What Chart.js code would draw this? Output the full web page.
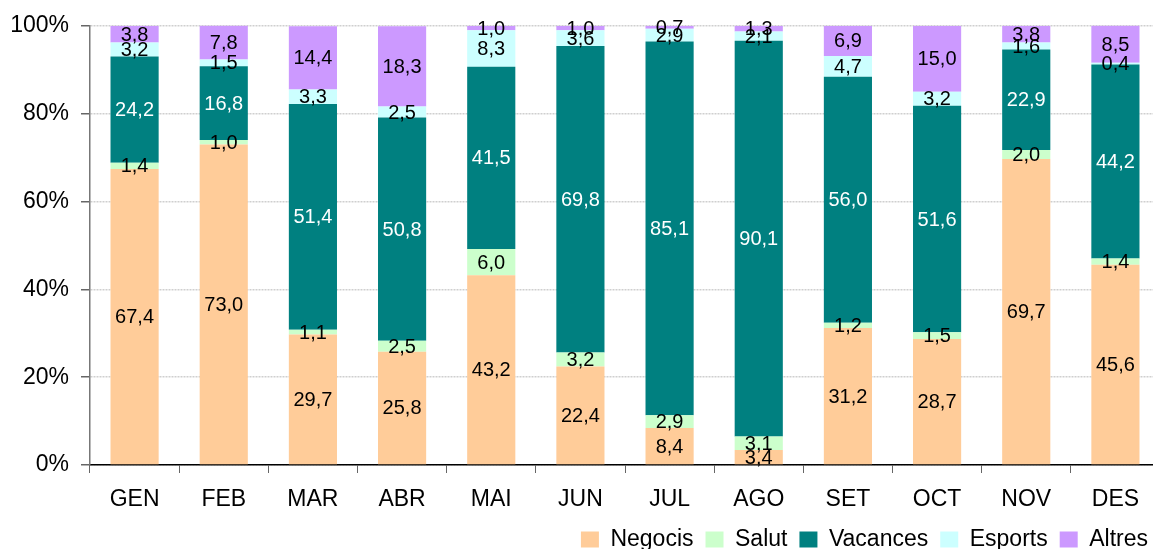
<!DOCTYPE html>
<html>
<head>
<meta charset="utf-8">
<script src="https://cdn.jsdelivr.net/npm/chart.js@4.4.1/dist/chart.umd.min.js"></script>
<style>
  html, body { margin: 0; padding: 0; background: #fff; overflow: hidden; }
  #wrap { width: 1153px; height: 549px; overflow: hidden; position: relative; }
  canvas { position: absolute; left: 0; top: 0; }
</style>
</head>
<body>
<div id="wrap"><canvas id="c" width="1168" height="561"></canvas></div>
<script>
const categories = ['GEN','FEB','MAR','ABR','MAI','JUN','JUL','AGO','SET','OCT','NOV','DES'];
const negocis  = [67.4, 73.0, 29.7, 25.8, 43.2, 22.4,  8.4,  3.4, 31.2, 28.7, 69.7, 45.6];
const salut    = [ 1.4,  1.0,  1.1,  2.5,  6.0,  3.2,  2.9,  3.1,  1.2,  1.5,  2.0,  1.4];
const vacances = [24.2, 16.8, 51.4, 50.8, 41.5, 69.8, 85.1, 90.1, 56.0, 51.6, 22.9, 44.2];
const esports  = [ 3.2,  1.5,  3.3,  2.5,  8.3,  3.6,  2.9,  2.1,  4.7,  3.2,  1.6,  0.4];
const altres   = [ 3.8,  7.8, 14.4, 18.3,  1.0,  1.0,  0.7,  1.3,  6.9, 15.0,  3.8,  8.5];
const yTicks = [0, 20, 40, 60, 80, 100];

const FONT = "'Liberation Sans', Arial, sans-serif";

const labelPlugin = {
  id: 'segLabels',
  afterDatasetsDraw(chart) {
    const ctx = chart.ctx;
    ctx.save();
    ctx.font = '20px ' + FONT;
    ctx.textAlign = 'center';
    ctx.textBaseline = 'middle';
    chart.data.datasets.forEach((ds, i) => {
      const meta = chart.getDatasetMeta(i);
      if (meta.hidden) return;
      meta.data.forEach((bar, j) => {
        const v = ds.data[j];
        const y = (bar.y + bar.base) / 2;
        ctx.fillStyle = ds.labelColor;
        ctx.fillText(v.toFixed(1).replace('.', ','), bar.x, y + 1);
      });
    });
    ctx.restore();
  }
};

const mk = (label, data, color, labelColor) => ({
  label, data, backgroundColor: color, borderWidth: 0,
  barPercentage: 0.54, categoryPercentage: 1.0, labelColor
});

new Chart(document.getElementById('c'), {
  type: 'bar',
  data: {
    labels: categories,
    datasets: [
      mk('Negocis', negocis, '#FFCC99', '#000'),
      mk('Salut', salut, '#CCFFCC', '#000'),
      mk('Vacances', vacances, '#008080', '#fff'),
      mk('Esports', esports, '#CCFFFF', '#000'),
      mk('Altres', altres, '#CC99FF', '#000')
    ]
  },
  options: {
    responsive: false,
    animation: false,
    layout: { padding: { top: 20, right: 8, left: 0, bottom: 0 } },
    plugins: {
      tooltip: { enabled: false },
      legend: {
        position: 'bottom',
        align: 'end',
        labels: {
          font: { family: FONT, size: 23 },
          color: '#000',
          boxWidth: 18,
          boxHeight: 16,
          padding: 12
        }
      }
    },
    scales: {
      x: {
        stacked: true,
        afterFit: s => { s.height = 51; },
        grid: { display: true, drawOnChartArea: false, offset: true, tickLength: 8, color: '#666', tickColor: '#666' },
        border: { display: true, color: '#000', width: 1.5 },
        ticks: { font: { family: FONT, size: 23 }, color: '#000', padding: 13 }
      },
      y: {
        stacked: true,
        min: 0, max: 100,
        afterFit: s => { s.width = 90; },
        afterBuildTicks: s => { s.ticks = yTicks.map(v => ({ value: v })); },
        grid: { color: '#cfcfcf', tickColor: '#666', tickLength: 9, lineWidth: 1.5 },
        border: { display: true, color: '#777', width: 1.5, dash: [2, 1] },
        ticks: { font: { family: FONT, size: 23 }, color: '#000', padding: 12, callback: v => v + '%' }
      }
    }
  },
  plugins: [labelPlugin]
});
</script>
</body>
</html>
